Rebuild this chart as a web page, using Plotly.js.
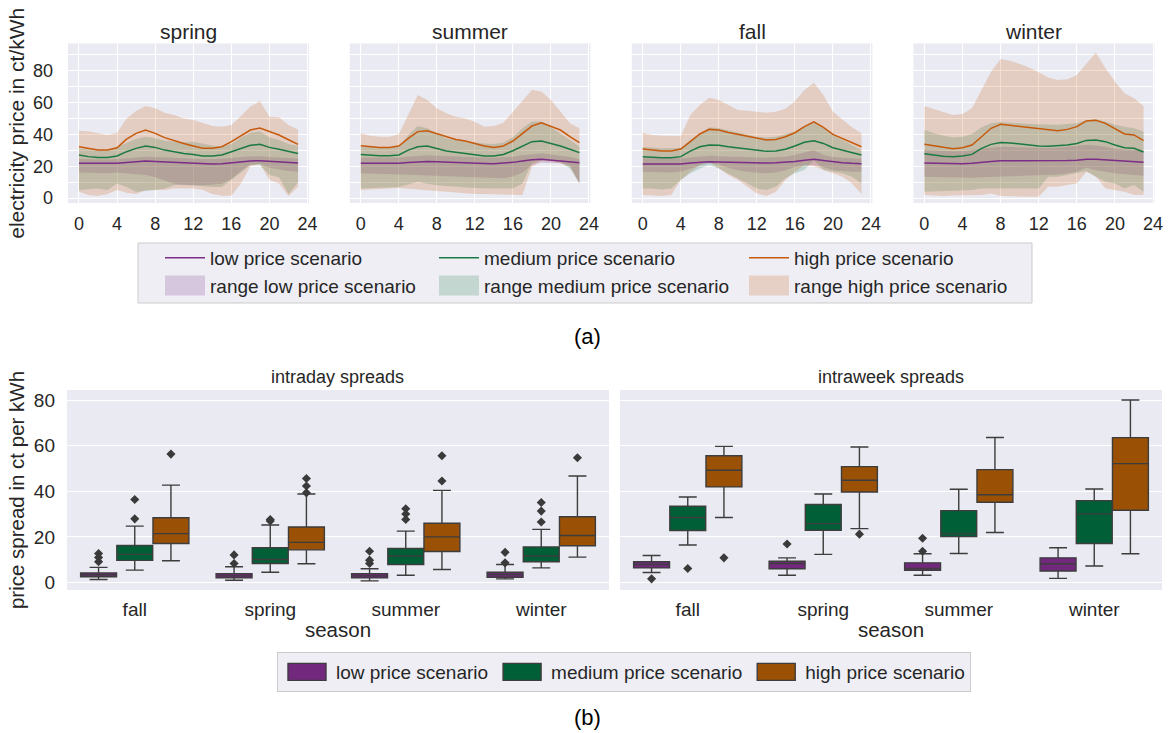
<!DOCTYPE html>
<html><head><meta charset="utf-8">
<script src="https://cdn.plot.ly/plotly-3.0.1.min.js"></script>
<style>html,body{margin:0;padding:0;background:#fff;}#chart{width:1170px;height:733px;}</style>
</head><body><div id="chart"></div>
<script>
// ---------- data: hourly price profiles (ct/kWh) ----------
const hours = [0,1,2,3,4,5,6,7,8,9,10,11,12,13,14,15,16,17,18,19,20,21,22,23];
const topSeasons = ['spring','summer','fall','winter'];
const scenarioNames = ['low price scenario','medium price scenario','high price scenario'];

// [low, medium, high]
const springLines = [
  [21.8,21.7,21.6,21.6,21.8,22.3,22.8,23.2,23.0,22.7,22.4,22.1,21.8,21.4,21.4,21.6,22.2,22.9,23.3,23.4,23.0,22.7,22.3,22.0],
  [27.0,26.0,25.5,25.5,26.4,29.1,31.2,32.7,31.8,30.1,29.1,28.0,27.4,26.4,26.4,27.0,29.1,31.2,33.1,33.7,31.8,30.6,29.1,28.0],
  [32.2,31.0,30.1,30.1,31.6,37.0,40.6,42.7,40.6,37.9,36.0,34.3,32.7,31.2,31.2,32.2,35.4,38.9,42.7,44.0,41.7,39.6,36.6,33.7]];
const springMin = [
  [16.0,15.8,15.5,15.5,16.0,15.5,15.0,14.5,13.0,11.0,9.0,8.0,8.0,8.0,8.5,9.0,12.0,17.0,21.0,21.5,19.0,18.0,17.0,16.5],
  [5.0,5.5,6.0,5.0,9.2,7.0,4.0,4.5,5.0,6.0,8.0,8.5,8.0,7.5,7.0,7.0,11.3,16.0,20.7,20.7,14.4,13.0,2.5,10.0],
  [4.0,1.9,1.3,2.5,5.0,3.3,2.5,5.0,5.0,5.0,6.0,6.0,6.0,5.0,2.5,1.5,1.5,9.2,20.0,21.4,11.3,9.2,1.3,7.1]];
const springMax = [
  [24.5,24.3,24.2,24.2,24.5,25.0,25.5,26.0,25.8,25.5,25.2,25.0,24.8,24.5,24.5,24.7,25.2,25.8,26.2,26.3,25.8,25.5,25.0,24.8],
  [31.0,30.5,30.0,30.0,32.0,34.5,37.0,38.5,37.5,36.0,35.5,35.0,35.4,34.0,33.0,32.0,34.0,38.0,41.0,41.7,38.0,36.5,34.0,32.7],
  [42.3,41.9,40.6,39.6,41.0,50.0,54.6,57.8,56.3,53.6,52.1,50.0,49.0,46.9,45.2,44.8,45.8,51.5,57.4,60.9,51.0,50.7,45.8,43.1]];

const summerLines = [
  [21.8,21.8,21.7,21.7,21.8,22.3,22.8,23.0,22.8,22.5,22.3,22.1,21.9,21.7,21.6,21.8,22.4,23.2,24.0,24.3,23.8,23.2,22.6,22.1],
  [27.4,26.8,26.6,26.6,27.0,30.1,32.2,32.7,31.2,29.5,28.7,28.0,27.2,26.4,26.4,27.4,29.7,32.7,35.4,35.8,34.3,32.7,30.6,28.5],
  [32.9,32.2,31.8,31.8,32.7,37.5,41.7,42.3,40.6,38.5,36.8,35.8,34.3,32.7,31.8,32.7,35.8,40.6,45.2,47.3,45.2,42.7,38.5,34.8]];
const summerMin = [
  [15.5,15.4,15.3,15.2,15.0,14.8,14.5,14.2,14.0,13.6,13.4,13.0,12.8,12.6,12.4,12.4,13.5,16.0,20.7,22.2,21.8,21.8,20.5,9.5],
  [6.0,6.2,6.5,6.8,7.0,8.5,10.3,9.0,8.0,7.5,7.0,6.5,6.3,6.2,6.0,6.0,6.0,9.2,21.8,23.9,23.5,22.5,18.6,9.2],
  [5.0,5.4,5.9,6.1,6.3,5.9,5.4,5.0,4.6,4.0,3.3,2.9,2.5,2.5,2.3,1.9,1.9,1.9,19.7,23.4,22.8,21.8,19.7,9.2]];
const summerMax = [
  [25.5,25.4,25.3,25.3,25.5,26.0,26.5,26.8,26.5,26.2,26.0,25.8,25.6,25.4,25.3,25.5,26.0,26.8,27.5,28.0,27.3,26.5,25.8,24.5],
  [32.0,32.0,32.0,32.0,32.0,39.6,45.2,43.8,40.6,37.5,36.4,35.6,34.8,34.2,33.9,34.8,38.3,43.8,48.0,48.0,44.4,40.6,36.4,32.2],
  [40.6,39.1,38.5,38.5,40.0,52.1,64.7,61.5,56.3,53.2,51.0,50.0,47.9,44.8,45.2,47.3,54.3,61.5,67.8,66.8,61.5,54.3,46.9,43.8]];

const fallLines = [
  [21.4,21.4,21.3,21.3,21.4,22.0,22.5,22.8,22.7,22.5,22.3,22.1,22.0,22.0,22.1,22.4,23.0,23.8,24.3,23.6,22.8,22.2,21.8,21.6],
  [26.0,25.6,25.3,25.3,26.0,29.5,32.2,33.3,33.1,32.2,31.4,30.6,29.7,29.3,29.5,30.6,32.7,35.0,36.0,34.3,31.6,30.1,28.7,27.0],
  [30.8,30.1,29.5,29.5,30.8,35.4,40.2,43.1,42.7,41.2,40.0,38.5,37.3,36.4,36.8,38.5,41.0,44.8,47.9,44.4,40.0,37.5,34.8,32.2]];
const fallMin = [
  [16.5,16.3,16.0,16.0,16.5,18.5,20.5,21.8,21.0,19.0,17.5,16.5,16.0,15.5,16.0,17.5,19.5,20.5,20.7,19.5,17.5,17.0,16.5,16.5],
  [6.0,6.0,5.4,6.0,11.3,15.5,18.6,20.7,18.6,15.5,12.4,9.2,6.0,5.0,7.1,12.4,15.5,17.6,23.9,17.6,16.5,15.5,13.4,9.2],
  [1.9,1.5,1.3,1.9,11.3,16.5,20.7,22.8,18.6,14.4,11.3,7.1,2.9,1.3,4.0,11.3,16.5,20.7,20.0,17.6,15.5,13.4,9.2,2.5]];
const fallMax = [
  [25.0,25.0,24.9,24.9,25.0,25.5,26.0,26.5,26.3,26.0,25.8,25.6,25.5,25.5,25.6,26.0,27.0,28.5,30.1,27.0,25.8,25.3,25.0,24.8],
  [32.0,31.5,31.2,31.3,31.6,36.4,40.6,44.4,43.8,42.5,41.0,39.8,38.5,38.0,38.5,40.0,41.7,45.2,47.9,43.8,39.6,36.4,33.3,30.1],
  [41.0,39.6,39.1,39.1,38.9,52.1,58.4,63.0,61.5,58.4,55.3,54.8,54.2,53.6,54.2,56.0,60.7,67.8,72.4,64.7,54.2,49.0,44.4,40.6]];

const winterLines = [
  [22.0,21.8,21.6,21.4,21.5,21.8,22.5,23.0,23.4,23.4,23.3,23.2,23.2,23.2,23.3,23.5,23.8,24.3,24.3,24.0,23.4,23.0,22.8,22.4],
  [27.8,27.0,26.2,26.0,26.4,27.4,31.2,33.7,34.8,34.6,33.9,33.3,32.7,32.5,32.7,33.3,34.3,36.2,36.4,35.4,33.3,31.6,31.2,28.9],
  [33.7,32.7,31.8,31.0,31.6,33.3,38.5,43.8,46.3,45.6,44.8,44.2,43.5,42.7,42.3,43.1,44.8,48.4,48.8,46.9,43.8,40.2,39.6,36.0]];
const winterMin = [
  [13.4,13.2,13.0,12.8,12.6,12.8,13.0,13.2,13.4,13.6,13.8,14.0,14.2,14.4,14.8,15.5,16.5,19.0,17.5,16.5,15.5,15.0,14.5,14.0],
  [4.0,4.2,4.4,4.5,4.6,5.0,6.0,6.0,6.0,6.0,6.0,6.0,6.0,13.4,13.4,14.4,15.5,17.0,13.4,10.3,9.2,6.0,8.2,4.0],
  [1.9,1.6,1.3,1.6,1.7,1.8,1.9,2.9,1.3,1.1,1.0,0.9,0.8,7.1,7.1,8.2,9.2,16.5,13.4,6.0,5.0,4.0,1.9,1.9]];
const winterMax = [
  [30.1,29.8,29.5,29.3,29.5,30.0,31.0,31.8,32.2,32.0,31.8,31.6,31.4,31.4,31.6,32.0,32.6,33.3,33.0,32.2,31.0,30.3,30.0,30.0],
  [42.7,40.6,39.1,38.1,38.5,40.2,44.4,46.9,47.7,47.5,46.9,46.5,46.3,46.0,46.0,46.5,46.9,49.0,49.4,48.0,46.0,44.8,43.8,41.7],
  [57.8,55.9,53.8,52.1,52.8,56.3,67.8,79.3,87.3,86.2,84.2,81.9,78.9,75.6,74.1,74.5,77.3,84.6,91.3,81.4,73.1,65.7,62.6,57.8]];

// ---------- data: spread box statistics (ct per kWh), order fall, spring, summer, winter ----------
const boxSeasons = ['fall','spring','summer','winter'];
// rows: [low, medium, high]
const intradayQ1 = [[2.5,2.0,2.0,2.3],[9.7,8.3,7.9,9.1],[17.1,14.3,13.6,16.1]];
const intradayMedian = [[3.4,2.9,2.9,3.5],[12.3,10.1,11.6,11.6],[21.4,17.6,20.0,20.6]];
const intradayQ3 = [[4.2,3.9,3.9,4.5],[16.2,15.2,14.9,15.6],[28.4,24.3,26.0,28.8]];
const intradayLower = [[1.3,1.0,0.7,1.6],[5.4,4.5,3.2,6.4],[9.5,8.2,5.7,11.1]];
const intradayUpper = [[6.6,6.9,6.0,7.9],[24.7,25.2,22.5,23.3],[42.7,38.8,40.4,46.7]];
const intradayOutliers = [
  [[9.1,11.0,12.7],[8.3,12.1],[8.3,9.8,13.7],[8.6,13.2]],
  [[27.9,36.4],[27.0,27.6],[27.6,30.0,32.3],[26.5,31.3,35.1]],
  [[56.3],[39.3,42.3,45.6],[44.5,55.6],[54.7]]];

const intraweekQ1 = [[6.4,6.0,5.3,5.0],[22.8,22.9,20.1,17.1],[41.9,39.7,35.2,31.7]];
const intraweekMedian = [[7.9,8.3,6.1,8.2],[28.5,25.8,21.3,30.1],[49.2,44.8,38.5,52.1]];
const intraweekQ3 = [[9.1,9.3,8.6,10.8],[33.4,34.2,31.5,35.9],[55.6,50.8,49.5,63.5]];
const intraweekLower = [[4.4,3.2,3.2,1.8],[16.4,12.3,12.7,7.2],[28.5,23.6,21.9,12.6]];
const intraweekUpper = [[11.8,10.8,12.6,15.2],[37.5,38.8,40.9,41.0],[59.7,59.4,63.6,80.0]];
const intraweekOutliers = [
  [[1.6],[16.9],[13.7,19.4],[]],
  [[6.1],[],[],[]],
  [[10.8],[21.2],[],[]]];

// ---------- styling ----------
const W = 1170, H = 733;
const px = v => v / W;
const py = v => 1 - v / H;
const FONT = 'Liberation Sans, Arial, sans-serif';
const TXT = '#262626';
const lineColors = ['#7b2d87', '#1b7a43', '#c65a0c'];
const fillColors = ['rgba(123,45,135,0.2)', 'rgba(27,122,67,0.2)', 'rgba(198,90,12,0.2)'];
const boxColors = ['#72287d', '#005f37', '#9a5005'];
const topLegends = ['legend', 'legend2', 'legend3'];

const topProfiles = {
  spring: {lines: springLines, min: springMin, max: springMax},
  summer: {lines: summerLines, min: summerMin, max: summerMax},
  fall: {lines: fallLines, min: fallMin, max: fallMax},
  winter: {lines: winterLines, min: winterMin, max: winterMax}
};

const traces = [];
topSeasons.forEach((s, si) => {
  const xa = si === 0 ? 'x' : 'x' + (si + 1);
  const p = topProfiles[s];
  for (let k = 0; k < 3; k++) {
    traces.push({type: 'scatter', mode: 'lines', x: hours, y: p.min[k], xaxis: xa, yaxis: 'y',
      line: {width: 0, color: lineColors[k]}, showlegend: false, hoverinfo: 'skip'});
    traces.push({type: 'scatter', mode: 'lines', x: hours, y: p.max[k], xaxis: xa, yaxis: 'y',
      fill: 'tonexty', fillcolor: fillColors[k], line: {width: 0, color: lineColors[k]},
      name: 'range ' + scenarioNames[k], showlegend: si === 0, legend: topLegends[k], legendrank: 2,
      hoverinfo: 'skip'});
  }
});
topSeasons.forEach((s, si) => {
  const xa = si === 0 ? 'x' : 'x' + (si + 1);
  const p = topProfiles[s];
  for (let k = 0; k < 3; k++) {
    traces.push({type: 'scatter', mode: 'lines', x: hours, y: p.lines[k], xaxis: xa, yaxis: 'y',
      line: {width: 1.5, color: lineColors[k]}, name: scenarioNames[k],
      showlegend: si === 0, legend: topLegends[k], legendrank: 1});
  }
});

const offsets = [-0.267, 0, 0.267];
const boxPanels = [
  {xa: 'x5', q1: intradayQ1, med: intradayMedian, q3: intradayQ3, lo: intradayLower, hi: intradayUpper, out: intradayOutliers},
  {xa: 'x6', q1: intraweekQ1, med: intraweekMedian, q3: intraweekQ3, lo: intraweekLower, hi: intraweekUpper, out: intraweekOutliers}
];
boxPanels.forEach((bp, pi) => {
  for (let k = 0; k < 3; k++) {
    traces.push({type: 'box', xaxis: bp.xa, yaxis: 'y5',
      x: boxSeasons.map((_, i) => i + offsets[k]),
      q1: bp.q1[k], median: bp.med[k], q3: bp.q3[k], lowerfence: bp.lo[k], upperfence: bp.hi[k],
      width: 0.265, whiskerwidth: 0.5, fillcolor: boxColors[k],
      line: {color: '#3d3d3d', width: 1.4}, marker: {color: boxColors[k]},
      name: scenarioNames[k], showlegend: pi === 0, legend: 'legend4', boxpoints: false});
    const ox = [], oy = [];
    bp.out[k].forEach((vals, i) => vals.forEach(v => { ox.push(i + offsets[k]); oy.push(v); }));
    traces.push({type: 'scatter', mode: 'markers', xaxis: bp.xa, yaxis: 'y5', x: ox, y: oy,
      marker: {symbol: 'diamond', size: 7, color: '#3a3a3a'}, showlegend: false});
  }
});

const topDomainsX = [[68, 309], [349.8, 590.4], [631.8, 872.4], [913.4, 1154.5]];
function topX(i) {
  return {domain: [px(topDomainsX[i][0]), px(topDomainsX[i][1])], anchor: 'y', range: [-1.15, 24.15],
    tickvals: [0, 4, 8, 12, 16, 20, 24], showgrid: true, gridcolor: '#ffffff', gridwidth: 1,
    zeroline: false, showline: false, ticks: '', tickfont: {size: 18, color: TXT}, ticklabelstandoff: 8};
}
function botX(d0, d1) {
  return {domain: [px(d0), px(d1)], anchor: 'y5', range: [-0.5, 3.5], tickvals: [0, 1, 2, 3],
    ticktext: boxSeasons, showgrid: false, zeroline: false, showline: false, ticks: '',
    tickfont: {size: 19, color: TXT}, ticklabelstandoff: 6,
    title: {text: 'season', font: {size: 20.5, color: TXT}, standoff: 3}};
}

const legendBase = {orientation: 'v', xanchor: 'left', yanchor: 'top', bgcolor: 'rgba(0,0,0,0)',
  borderwidth: 0, font: {size: 19, color: TXT, family: FONT}, itemwidth: 40, traceorder: 'normal'};

const layout = {
  width: W, height: H, margin: {l: 0, r: 0, t: 0, b: 0},
  paper_bgcolor: '#ffffff', plot_bgcolor: '#EAEAF2',
  font: {family: FONT, color: TXT},
  xaxis: topX(0), xaxis2: topX(1), xaxis3: topX(2), xaxis4: topX(3),
  yaxis: {domain: [py(203), py(43.5)], anchor: 'x', range: [-3.1, 97], tick0: 0, dtick: 20,
    showgrid: true, gridcolor: '#ffffff', gridwidth: 1, zeroline: false, showline: false, ticks: '',
    minor: {tick0: 0, dtick: 10, showgrid: true, gridcolor: '#ffffff', gridwidth: 1},
    tickfont: {size: 18, color: TXT}, ticklabelstandoff: 14,
    title: {text: 'electricity price in ct/kWh', font: {size: 21, color: TXT}, standoff: 2}},
  xaxis5: botX(67, 609), xaxis6: botX(620, 1162),
  yaxis5: {domain: [py(590), py(390)], anchor: 'x5', range: [-3.3, 84.4], tick0: 0, dtick: 20,
    showgrid: true, gridcolor: '#ffffff', gridwidth: 1, zeroline: false, showline: false, ticks: '',
    tickfont: {size: 19, color: TXT}, ticklabelstandoff: 11,
    title: {text: 'price spread in ct per kWh', font: {size: 20.5, color: TXT}, standoff: 3}},
  legend: Object.assign({}, legendBase, {x: px(160), y: py(239)}),
  legend2: Object.assign({}, legendBase, {x: px(434), y: py(239)}),
  legend3: Object.assign({}, legendBase, {x: px(744), y: py(239)}),
  legend4: {orientation: 'h', x: px(277), xanchor: 'left', y: py(652), yanchor: 'top',
    bgcolor: '#EEEEF4', bordercolor: '#cccccc', borderwidth: 1,
    font: {size: 19, color: TXT, family: FONT}, itemwidth: 48, traceorder: 'normal'},
  shapes: [{type: 'rect', xref: 'paper', yref: 'paper', x0: px(138), x1: px(1032), y0: py(303), y1: py(243),
    fillcolor: '#EEEEF4', line: {color: '#cccccc', width: 1}, layer: 'below'}],
  annotations: [
    ...topSeasons.map((s, i) => ({text: s, xref: 'paper', yref: 'paper',
      x: px((topDomainsX[i][0] + topDomainsX[i][1]) / 2), y: py(31), xanchor: 'center', yanchor: 'middle',
      showarrow: false, font: {size: 21, color: TXT}})),
    {text: 'intraday spreads', xref: 'paper', yref: 'paper', x: px(338), y: py(377), xanchor: 'center',
      yanchor: 'middle', showarrow: false, font: {size: 18, color: TXT}},
    {text: 'intraweek spreads', xref: 'paper', yref: 'paper', x: px(891), y: py(377), xanchor: 'center',
      yanchor: 'middle', showarrow: false, font: {size: 18, color: TXT}},
    {text: '(a)', xref: 'paper', yref: 'paper', x: px(587), y: py(337), xanchor: 'center', yanchor: 'middle',
      showarrow: false, font: {size: 22, color: '#000000'}},
    {text: '(b)', xref: 'paper', yref: 'paper', x: px(587), y: py(717), xanchor: 'center', yanchor: 'middle',
      showarrow: false, font: {size: 22, color: '#000000'}}
  ]
};

Plotly.newPlot('chart', traces, layout, {staticPlot: true}).then(gd => {
  gd.querySelectorAll('.legendfill path').forEach(p => p.setAttribute('d', 'M5,-10h40v20h-40z'));
  gd.querySelectorAll('path.legendbox').forEach(p => p.setAttribute('d', 'M-19,8.5H19V-8.5H-19Z'));
});
</script>
</body></html>
